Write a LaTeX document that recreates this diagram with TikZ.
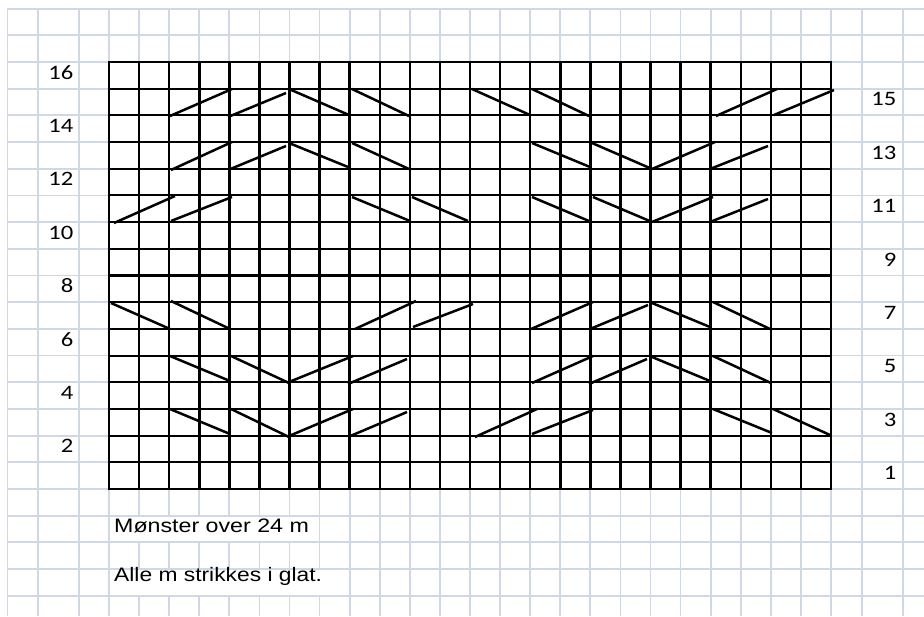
\documentclass[tikz,border=0pt]{standalone}
\usepackage{fontspec}
\newfontfamily\calfont{Carlito}
\newfontfamily\arialfont{Liberation Sans}
\definecolor{gridc}{HTML}{D0D7E5}
\begin{document}
\begin{tikzpicture}[x=1pt,y=-1pt,
  bgline/.style={draw=gridc, line width=1.8pt},
  chv/.style={draw=black, line width=2.5pt, line cap=rect},
  chh/.style={draw=black, line width=2.1pt, line cap=rect},
  stitch/.style={draw=black, line width=2.5pt},
  rowlbl/.style={inner sep=0pt, anchor=base east, font=\calfont\fontsize{20.5}{24}\selectfont},
  note/.style={inner sep=0pt, anchor=base west, font=\arialfont\fontsize{19.5}{23}\selectfont}]
\useasboundingbox (0,0) rectangle (924,616);
\fill[white] (0,0) rectangle (924,616);
% background spreadsheet grid
\foreach \x in {7.5,38,79,862,903} \draw[bgline] (\x,8) -- (\x,616);
\foreach \k in {0,...,24} \draw[bgline] ({109+30.083*\k},8) -- ({109+30.083*\k},616);
\foreach \k in {-2,...,20} \draw[bgline] (7.5,{62+26.6875*\k}) -- (924,{62+26.6875*\k});
% cells covered by overflowing text
\fill[white] (110.5,516.8) rectangle (318.6,541.4);
\fill[white] (110.5,570.1) rectangle (348.7,594.8);
% chart grid
\foreach \k in {0,...,24} \draw[chv] ({109+30.083*\k},62) -- ({109+30.083*\k},489);
\foreach \k in {0,...,16} \draw[chh] (109,{62+26.6875*\k}) -- (831,{62+26.6875*\k});
% stitches
\foreach \a/\b/\c/\d in {
  170/116/232/89, 228/117/286/93, 289/89/349/115, 352/89/409/116,
  472/89/530/115, 532/89/589/116, 716/116/777/89, 774/115/834/90,
  171/170/232/142, 228/170/286/146, 289/143/348/167, 352/143/409/169,
  532/143/590/167, 592/143/652/169, 652/169/715/142, 710/169/768/146,
  114/223/175/196, 171/221/232/197, 352/197/410/221, 412/197/468/221,
  532/197/589/221, 593/197/652/222, 652/222/713/197, 710/222/768/199,
  111/303/170/329, 171/301/230/329, 355/329/416/301, 413/327/473/304,
  531/329/593/302, 590/329/648/305, 652/303/710/327, 713/302/770/329,
  170/356/230/381, 231/356/289/383, 289/382/353/356, 348/384/407/359,
  532/383/593/356, 589/384/647/359, 652/357/710/381, 713/356/771/383,
  170/409/230/434, 231/409/289/437, 289/436/353/409, 348/437/407/412,
  475/437/537/409, 532/434/593/410, 713/409/772/433, 773/409/830/435}
  \draw[stitch] (\a,\b) -- (\c,\d);
% row numbers
\foreach \n in {2,4,...,16}
  \node[rowlbl] (l\n) at (73.5,{489-26.6875*(\n-1)-9.5}) {\scalebox{1.2}[1]{\n}};
\foreach \n in {1,3,...,15}
  \node[rowlbl] (l\n) at (896.5,{489-26.6875*(\n-1)-9.5}) {\scalebox{1.2}[1]{\n}};
% notes
\node[note] (t1) at (114,532.3) {\scalebox{1.19}[1]{Mønster over 24 m}};
\node[note] (t2) at (114,581.5) {\scalebox{1.17}[1]{Alle m strikkes i glat.}};
\end{tikzpicture}
\end{document}
